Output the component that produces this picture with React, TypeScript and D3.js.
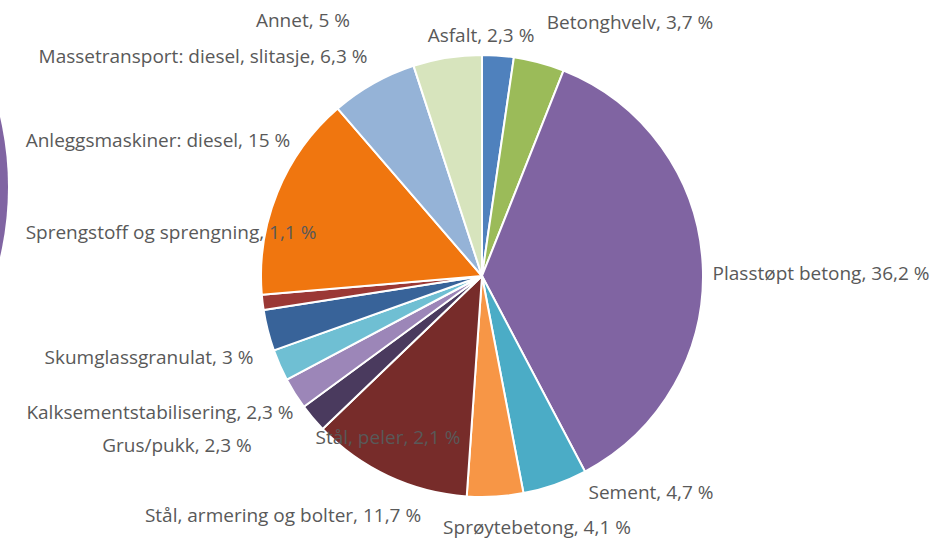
import { useEffect, useRef } from 'react';
import * as d3 from 'd3';

// kategorier og andeler (%) med klokka fra kl. 12
const categories = [
  'Asfalt',
  'Betonghvelv',
  'Plasstøpt betong',
  'Sement',
  'Sprøytebetong',
  'Stål, armering og bolter',
  'Stål, peler',
  'Grus/pukk',
  'Kalksementstabilisering',
  'Skumglassgranulat',
  'Sprengstoff og sprengning',
  'Anleggsmaskiner: diesel',
  'Massetransport: diesel, slitasje',
  'Annet',
];
const values = [2.3, 3.7, 36.2, 4.7, 4.1, 11.7, 2.1, 2.3, 2.3, 3, 1.1, 15, 6.3, 5];
const valueLabels = ['2,3', '3,7', '36,2', '4,7', '4,1', '11,7', '2,1', '2,3', '2,3', '3', '1,1', '15', '6,3', '5'];

const colors = [
  '#4F81BD', '#9BBB59', '#8064A2', '#4BACC6', '#F79646', '#772C2A', '#4A3A5E',
  '#9C86B8', '#6FBFD3', '#386399', '#9B3835', '#F0760F', '#95B3D7', '#D7E4BD',
];

// plassering av etiketter (midtpunkt), slik Excel la dem
const labelPos: [number, number][] = [
  [481, 35], [630, 22], [821, 273], [651, 492], [537, 527], [283, 515], [388, 437],
  [177, 445], [160, 412], [149, 357], [171, 232], [158, 140], [203, 56], [303, 20],
];

const App = () => {
  const svgRef = useRef<SVGSVGElement>(null);

  useEffect(() => {
    const svg = d3.select(svgRef.current);
    svg.selectAll('*').remove();

    const width = 940;
    const height = 539;
    const cx = 482;
    const cy = 276;
    const radius = 221;

    svg.attr('width', width).attr('height', height);

    // avkuttet sirkel i venstre kant
    svg
      .append('circle')
      .attr('cx', -302)
      .attr('cy', 187)
      .attr('r', 310)
      .attr('fill', '#8064A2');

    const pie = d3
      .pie<number>()
      .sort(null)
      .value((d) => d);

    const arc = d3.arc<d3.PieArcDatum<number>>().innerRadius(0).outerRadius(radius);

    const g = svg.append('g').attr('transform', `translate(${cx},${cy})`);

    g.selectAll('path')
      .data(pie(values))
      .join('path')
      .attr('d', arc)
      .attr('fill', (_, i) => colors[i])
      .attr('stroke', 'white')
      .attr('stroke-width', 2)
      .attr('stroke-linejoin', 'round');

    svg
      .append('g')
      .selectAll('text')
      .data(categories)
      .join('text')
      .attr('x', (_, i) => labelPos[i][0])
      .attr('y', (_, i) => labelPos[i][1])
      .attr('dy', '0.36em')
      .attr('text-anchor', 'middle')
      .attr('fill', '#595959')
      .style('font-family', '"Open Sans", sans-serif')
      .style('font-size', '19px')
      .text((d, i) => `${d}, ${valueLabels[i]} %`);
  }, []);

  return (
    <div style={{ position: 'fixed', left: 0, top: 0, width: 940, height: 539, background: 'white' }}>
      <svg ref={svgRef} style={{ display: 'block' }} />
    </div>
  );
};

export default App;
